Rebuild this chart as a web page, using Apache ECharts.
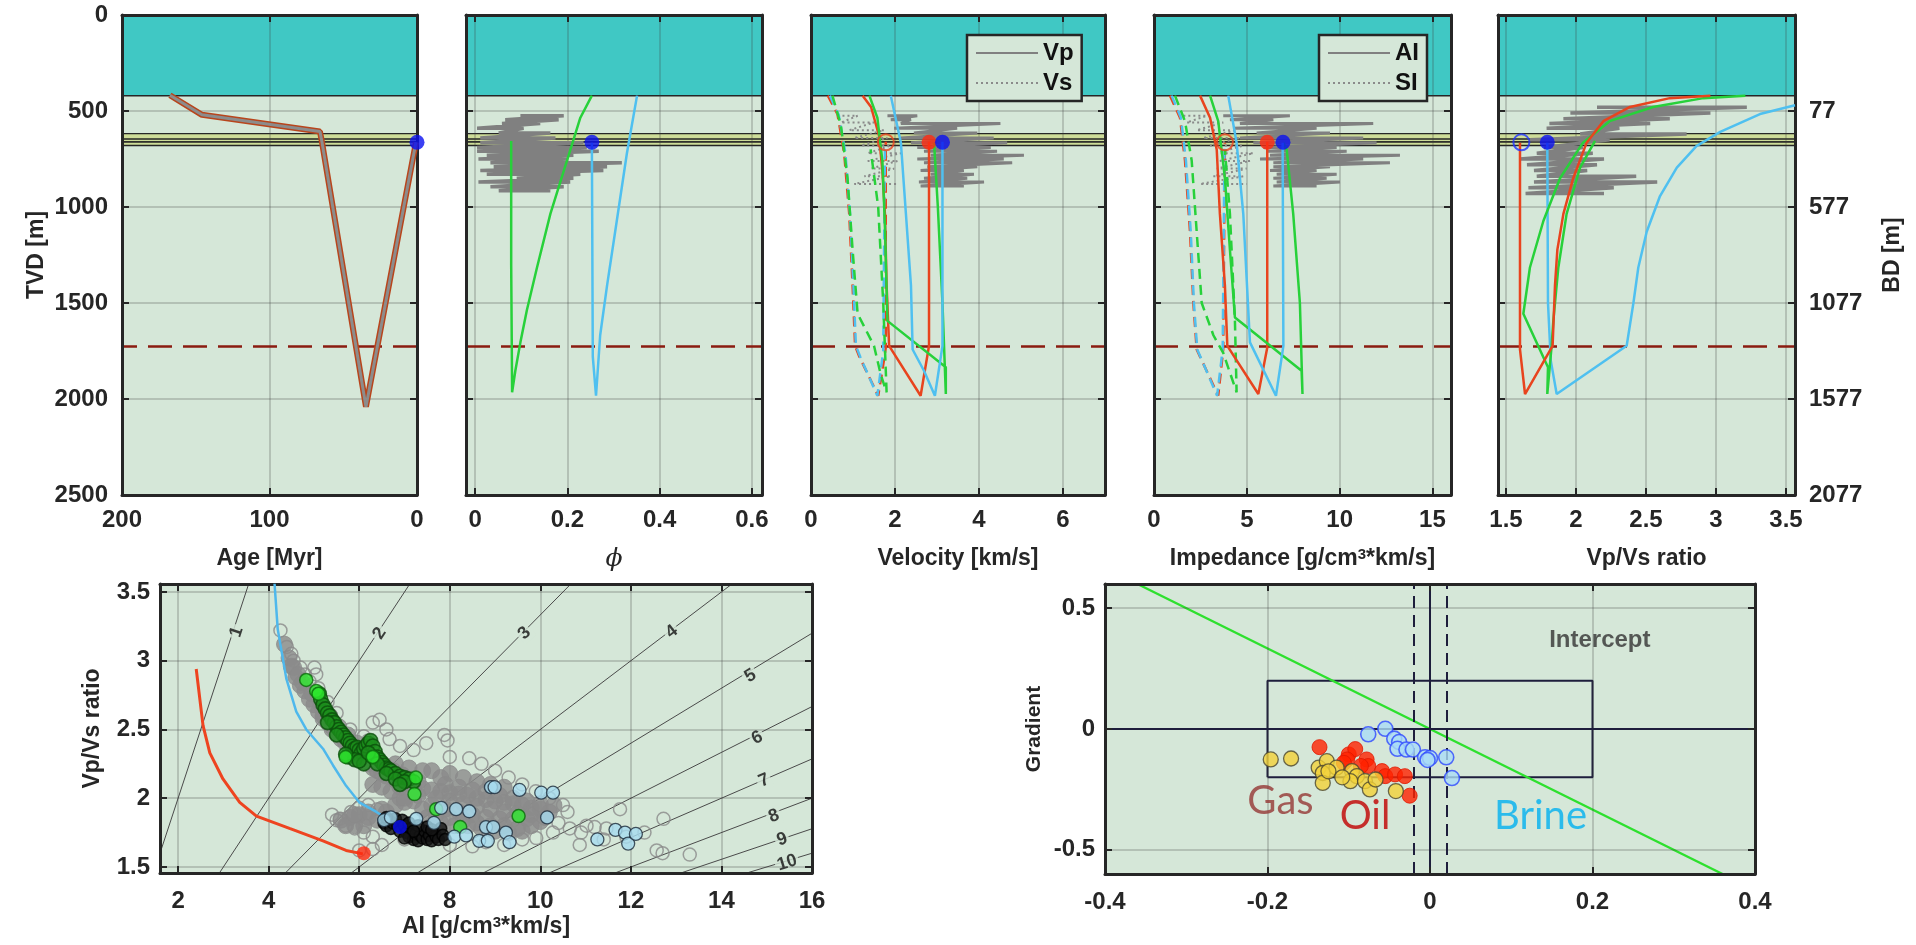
<!DOCTYPE html>
<html><head><meta charset="utf-8">
<script src="https://cdn.jsdelivr.net/npm/echarts@6/dist/echarts.min.js"></script>
<style>html,body{margin:0;padding:0;background:#fff}#c{width:1916px;height:945px}</style>
</head><body><div id="c"></div>
<script>
// ================= DATA =================
const tvdTicks = [0, 500, 1000, 1500, 2000, 2500];
const bdTickLabels = ['', '77', '577', '1077', '1577', '2077'];
const waterBottom = 420;
const reservoirLayers = [618, 646, 661, 680];
const ffDepth = 1727;
const wellDepth = 663;

// Panel 1: age vs depth
const ageX = [167.5, 145.8, 65.8, 64.4, 34.6, 0.7];
const ageD = [418, 520, 607, 663, 2040, 663];

// Panel 2: porosity
const phiGreenX = [0.253, 0.228, 0.199, 0.163, 0.134, 0.112, 0.098, 0.087, 0.080, 0.078, 0.078];
const phiGreenD = [420, 535, 758, 1036, 1315, 1538, 1705, 1853, 1965, 1300, 656];
const phiBlueX = [0.351, 0.329, 0.307, 0.286, 0.271, 0.262, 0.255, 0.253];
const phiBlueD = [420, 720, 1073, 1408, 1668, 1983, 1779, 665];
const phiLogD = [525, 545, 565, 590, 615, 640, 665, 690, 710, 730, 750, 770, 790, 810, 830, 850, 870, 895, 915];
const phiLogL = [0.098, 0.065, 0.058, 0.004, 0.051, 0.011, 0.011, 0.004, 0.004, 0.025, 0.007, 0.033, 0.040, 0.011, 0.025, 0.090, 0.007, 0.033, 0.051];
const phiLogR = [0.192, 0.181, 0.141, 0.105, 0.163, 0.174, 0.235, 0.242, 0.268, 0.213, 0.199, 0.318, 0.286, 0.278, 0.228, 0.213, 0.206, 0.192, 0.163];

// Panel 3: velocity
const velRedPX = [1.23, 1.43, 1.62, 1.70, 1.76, 1.80, 1.86, 2.61, 2.81, 2.81];
const velRedPD = [420, 479, 628, 813, 1036, 1408, 1723, 1983, 1723, 660];
const velRedSX = [0.40, 0.63, 0.79, 0.91, 0.99, 1.05, 1.15, 1.60, 1.70, 1.78, 1.78];
const velRedSD = [420, 516, 720, 1036, 1408, 1723, 1779, 1983, 1850, 1733, 660];
const velGreenPX = [1.39, 1.58, 1.70, 1.76, 1.82, 3.21, 3.21, 3.13, 3.02, 2.93];
const velGreenPD = [420, 535, 760, 1100, 1593, 1835, 1974, 1500, 1000, 665];
const velGreenSX = [0.51, 0.71, 0.87, 0.99, 1.11, 1.50, 1.66, 1.80, 1.72, 1.60, 1.42];
const velGreenSD = [420, 572, 850, 1222, 1556, 1723, 1872, 1965, 1500, 1000, 700];
const velBluePX = [1.90, 2.14, 2.26, 2.38, 2.42, 2.69, 2.95, 3.13, 3.13];
const velBluePD = [420, 665, 1036, 1408, 1742, 1853, 1983, 1723, 660];
const velBlueSX = [0.45, 0.66, 0.82, 0.93, 1.01, 1.07, 1.17, 1.58, 1.72, 1.76];
const velBlueSD = [420, 520, 720, 1036, 1408, 1723, 1779, 1983, 1750, 700];
const vpLogD = [525, 545, 565, 590, 615, 640, 665, 690, 710, 730, 750, 770, 790, 810, 830, 850, 870, 890];
const vpLogL = [1.82, 1.90, 2.14, 1.98, 2.45, 2.14, 2.38, 2.53, 2.69, 2.85, 2.53, 2.69, 2.77, 2.61, 2.85, 2.69, 2.57, 2.61];
const vpLogR = [2.53, 2.38, 4.51, 3.48, 3.96, 4.35, 4.67, 4.28, 4.43, 5.07, 4.59, 4.79, 3.96, 3.64, 3.88, 3.72, 4.12, 3.64];
const vsLogD = [525, 560, 600, 640, 680, 720, 760, 800, 840, 880];
const vsLogL = [0.63, 0.71, 0.91, 1.03, 1.19, 1.35, 1.35, 1.43, 1.27, 1.03];
const vsLogR = [1.11, 1.50, 1.74, 1.82, 1.90, 2.14, 2.06, 1.98, 1.90, 2.06];

// Panel 4: impedance
const aiRedPX = [2.48, 3.02, 3.38, 3.55, 3.82, 3.95, 5.62, 6.10, 6.10];
const aiRedPD = [420, 535, 702, 1036, 1408, 1723, 1974, 1733, 660];
const aiRedSX = [0.86, 1.40, 1.67, 1.94, 2.12, 2.30, 3.46, 3.73, 3.82];
const aiRedSD = [420, 535, 758, 1129, 1500, 1742, 1983, 1742, 665];
const aiGreenPX = [3.02, 3.46, 3.82, 4.09, 4.36, 7.95, 8.00, 7.86, 7.50, 7.15, 6.97];
const aiGreenPD = [420, 553, 850, 1222, 1575, 1853, 1974, 1500, 1036, 702, 665];
const aiGreenSX = [1.13, 1.67, 2.03, 2.30, 2.57, 3.20, 3.73, 4.45, 4.36, 4.09, 3.82];
const aiGreenSD = [420, 553, 758, 1129, 1500, 1668, 1760, 1965, 1593, 1036, 702];
const aiBluePX = [4.00, 4.45, 4.81, 5.17, 6.57, 6.97, 6.93];
const aiBluePD = [420, 665, 1036, 1705, 1983, 1723, 665];
const aiBlueSX = [0.95, 1.45, 1.72, 1.98, 2.15, 2.33, 3.40, 3.70, 3.80];
const aiBlueSD = [420, 535, 758, 1129, 1500, 1742, 1983, 1742, 665];
const aiLogD = [525, 545, 565, 590, 615, 640, 665, 690, 710, 730, 750, 770, 790, 810, 830, 850, 870, 890];
const aiLogL = [3.73, 4.09, 4.63, 4.27, 5.53, 4.63, 5.35, 5.89, 6.07, 6.25, 5.71, 6.43, 6.43, 6.25, 6.61, 6.43, 6.61, 6.43];
const aiLogR = [7.32, 6.43, 11.81, 8.76, 9.48, 11.27, 11.99, 9.84, 10.38, 13.25, 11.27, 12.71, 9.48, 8.76, 9.84, 9.30, 10.02, 8.76];
const siLogD = [525, 560, 600, 640, 680, 720, 760, 800, 840, 880];
const siLogL = [1.58, 1.76, 2.30, 2.66, 3.02, 3.38, 3.55, 3.38, 3.20, 2.48];
const siLogR = [2.84, 3.73, 4.45, 4.63, 4.81, 5.35, 5.17, 4.99, 4.81, 4.99];

// Panel 5: Vp/Vs
const rRedX = [2.96, 2.67, 2.386, 2.195, 2.076, 1.98, 1.91, 1.867, 1.85, 1.833, 1.636, 1.60, 1.60];
const rRedD = [420, 433, 479, 553, 665, 850, 1036, 1222, 1408, 1723, 1974, 1742, 665];
const rGreenX = [3.21, 2.91, 2.55, 2.24, 2.05, 1.886, 1.767, 1.671, 1.624, 1.80, 1.795, 1.826, 1.838, 1.874, 1.933, 2.029, 2.136];
const rGreenD = [420, 433, 479, 553, 665, 850, 1073, 1315, 1556, 1835, 1974, 1723, 1593, 1315, 1036, 795, 656];
const rBlueX = [3.564, 3.314, 3.03, 2.86, 2.72, 2.60, 2.505, 2.445, 2.41, 2.362, 1.862, 1.82, 1.80, 1.795];
const rBlueD = [470, 516, 609, 683, 795, 943, 1129, 1315, 1500, 1723, 1974, 1800, 1500, 665];
const rLogD = [480, 510, 540, 565, 590, 620, 650, 690, 720, 750, 780, 810, 840, 870, 900, 930];
const rLogL = [2.15, 1.96, 1.91, 1.81, 1.79, 2.03, 1.67, 1.77, 1.72, 1.60, 1.65, 1.70, 1.72, 1.70, 1.66, 1.64];
const rLogR = [3.22, 2.96, 2.67, 2.53, 2.31, 2.79, 2.24, 2.05, 2.12, 2.20, 2.15, 2.08, 2.43, 2.58, 2.27, 2.20];

// Well markers (value at wellDepth) per panel
const blueDotX = [0, 0.253, 3.13, 6.95, 1.795];
const redDotX = [null, null, 2.81, 6.10, null];
const openDotX = [null, null, 1.78, 3.82, 1.61];

// Bottom-left: AI vs Vp/Vs
const siLevels = [1, 2, 3, 4, 5, 6, 7, 8, 9, 10];
const siLabelX = [3.29, 6.45, 9.65, 12.9, 14.64, 14.79, 14.94, 15.16, 15.34, 15.45];
const siLabelY = [3.21, 3.20, 3.20, 3.21, 2.89, 2.44, 2.13, 1.87, 1.70, 1.53];
const cloudCoreAI = [4.35,4.45,4.55,4.6,4.7,4.8,4.9,5.0,5.1,5.2,5.3,5.4,5.5,5.6,5.7,5.8,5.9,6.0,6.1,6.2,6.3,6.4,6.5,6.6,6.8,7.0,7.2,7.4,7.6,7.8,8.0,8.2,8.4,8.6,8.8,9.0,9.2,9.4,9.6,9.8,10.0,10.2,
  7.6,7.8,8.0,8.3,8.6,8.9,9.2,7.6,7.9,8.2,8.5,8.8,9.1,9.4,9.7,10.0,7.8,8.1,8.4,8.7,9.0,9.3,9.6,6.8,7.1,7.4,6.9,7.2,7.5,
  5.6,5.8,6.0,6.2,6.4,6.1,5.9,5.7,6.6,6.8,7.0,5.2,5.4,5.6,5.8,6.0,6.2,6.4,6.6,
  7.0,7.3,7.7,8.0,8.3,8.6,8.9,9.2,9.5,9.8,10.1,7.4,7.7,8.0,8.3,8.6,8.9,9.2,9.5,9.8,7.9,8.2,8.5,8.8,9.1,9.4,9.7,10.0,10.3,6.5,6.2,5.9,7.3,6.7,6.9,7.6,6.3,6.5,
  4.5,4.65,4.75,4.95,5.15,5.35,5.55,5.75,5.95,6.15,6.35,6.55,6.75,6.95,7.15];
const cloudCoreVR = [3.12,3.02,2.95,2.88,2.82,2.78,2.72,2.68,2.63,2.58,2.55,2.5,2.47,2.43,2.4,2.36,2.33,2.3,2.27,2.25,2.22,2.2,2.18,2.16,2.13,2.1,2.08,2.07,2.06,2.05,2.04,2.03,2.02,2.0,1.99,1.98,1.97,1.96,1.95,1.93,1.92,1.9,
  2.2,2.15,2.18,2.15,2.12,2.1,2.08,1.95,1.92,1.9,1.88,1.86,1.85,1.85,1.85,1.83,1.82,1.8,1.8,1.78,1.76,1.75,1.76,2.25,2.22,2.2,2.0,1.98,1.86,
  1.84,1.86,1.88,1.86,1.84,1.8,1.8,1.8,1.9,1.95,1.97,2.6,2.52,2.45,2.38,2.32,2.28,2.24,2.22,
  2.0,2.02,2.0,1.98,1.96,1.94,1.92,1.9,1.89,1.88,1.86,1.92,1.88,1.86,1.84,1.82,1.8,1.8,1.78,1.8,2.1,2.08,2.06,2.05,2.02,2.0,1.98,1.96,1.95,1.92,1.9,1.88,2.12,2.05,2.08,1.8,2.1,2.08,
  2.96,2.9,2.84,2.76,2.68,2.6,2.52,2.46,2.4,2.34,2.29,2.24,2.2,2.17,2.14];
const cloudAI = [4.26,4.4,4.5,4.55,4.7,5.01,4.9,5.1,5.3,5.5,6.45,6.3,6.6,6.67,6.9,7.2,7.48,7.88,7.95,8.0,8.43,8.7,9.0,9.3,9.6,9.9,10.2,10.5,10.6,
  5.4,5.5,5.57,5.82,6.0,6.2,6.4,5.7,5.9,6.1,6.3,6.0,6.3,6.5,7.0,8.0,8.5,8.8,9.2,9.6,9.91,10.28,10.65,10.87,11.02,11.2,11.46,11.76,11.4,11.9,12.72,12.57,12.7,13.3,10.4,10.9,12.3,
  5.05,4.8,5.8,6.1,6.2];
const cloudVR = [3.22,3.1,3.05,3.0,2.95,2.95,2.85,2.8,2.7,2.62,2.57,2.55,2.5,2.43,2.38,2.35,2.4,2.46,2.42,2.3,2.29,2.25,2.2,2.15,2.1,2.05,2.0,1.95,1.9,
  1.88,1.84,1.85,1.9,1.93,1.95,1.92,1.8,1.78,1.75,1.72,1.62,1.63,1.66,1.7,1.66,1.65,1.68,1.66,1.7,1.71,1.75,1.78,1.66,1.8,1.79,1.78,1.92,1.7,1.72,1.85,1.62,1.6,1.59,1.82,1.75,1.75,
  2.9,2.9,2.5,2.45,2.42];
const greenBandAI = [5.12,5.15,5.2,5.25,5.3,5.35,5.4,5.45,5.5,5.55,5.6,5.65,5.7,5.75,5.8,5.85,5.9,5.95,6.0,6.05,6.1,6.15,6.2,6.25,6.3,6.35,6.4,6.45,6.5,6.55,6.6,6.65,6.7,6.8,6.9,7.0,7.1,7.2,5.75,5.9,6.1,6.0,5.7,6.3,6.2,6.4,6.6,6.8,7.0,5.5,5.3,6.9];
const greenBandVR = [2.76,2.72,2.68,2.65,2.62,2.6,2.57,2.55,2.52,2.5,2.48,2.46,2.44,2.42,2.4,2.38,2.36,2.37,2.35,2.33,2.36,2.38,2.4,2.42,2.38,2.34,2.3,2.28,2.26,2.24,2.22,2.21,2.2,2.18,2.16,2.15,2.14,2.12,2.3,2.28,2.25,2.27,2.32,2.3,2.33,2.25,2.18,2.14,2.12,2.46,2.55,2.1];
const greenAI = [4.83, 5.05, 5.1, 5.7, 6.3, 7.25, 7.22, 7.7, 8.23, 9.52];
const greenVR = [2.86, 2.78, 2.76, 2.3, 2.3, 2.15, 2.03, 1.92, 1.79, 1.87];
const lbAI = [8.91,8.99,9.54,10.02,10.28,7.81,8.14,8.43,8.1,8.36,8.65,8.84,8.8,8.96,9.24,9.32,7.26,10.15,11.26,11.66,11.87,11.94,12.11,6.55,6.7,7.65];
const lbVR = [2.08,2.08,2.06,2.04,2.04,1.93,1.92,1.905,1.72,1.73,1.69,1.69,1.79,1.79,1.75,1.68,1.85,1.86,1.70,1.77,1.75,1.67,1.74,1.84,1.86,1.82];
const blackAI = [6.55,6.6,6.65,6.7,6.75,6.8,6.85,6.9,6.95,7.0,7.05,7.1,7.15,7.2,7.25,7.3,7.35,7.4,7.45,7.5,7.55,7.6,7.65,7.7,7.75,7.8,7.85,7.3,7.5,7.1,6.6,7.9,7.2,7.6,7.0];
const blackVR = [1.82,1.8,1.84,1.78,1.82,1.85,1.8,1.76,1.84,1.8,1.75,1.72,1.78,1.7,1.74,1.69,1.73,1.71,1.76,1.7,1.73,1.69,1.75,1.72,1.7,1.78,1.73,1.8,1.79,1.82,1.86,1.7,1.76,1.77,1.71];
const trendRedAI = [2.40, 2.55, 2.70, 2.99, 3.36, 3.73, 4.46, 5.2, 5.71, 6.08];
const trendRedVR = [2.94, 2.53, 2.33, 2.14, 1.97, 1.87, 1.78, 1.69, 1.62, 1.595];
const trendBlueAI = [4.13, 4.2, 4.39, 4.61, 4.83, 5.2, 5.42, 5.71, 6.0, 6.38, 6.67, 6.9];
const trendBlueVR = [3.56, 3.23, 2.87, 2.63, 2.50, 2.36, 2.24, 2.09, 1.97, 1.9, 1.84, 1.79];
const endRed = [6.1, 1.6];
const endBlue = [6.9, 1.79];

// Bottom-right: AVO intercept / gradient
const gasI = [-0.196,-0.171,-0.137,-0.127,-0.132,-0.132,-0.115,-0.096,-0.090,-0.098,-0.080,-0.074,-0.067,-0.042,-0.125,-0.108];
const gasG = [-0.126,-0.122,-0.160,-0.133,-0.182,-0.223,-0.160,-0.174,-0.195,-0.216,-0.216,-0.250,-0.209,-0.257,-0.175,-0.200];
const oilI = [-0.136,-0.100,-0.092,-0.102,-0.078,-0.076,-0.059,-0.055,-0.043,-0.031,-0.025,-0.085,-0.106];
const oilG = [-0.075,-0.105,-0.083,-0.126,-0.126,-0.153,-0.174,-0.195,-0.188,-0.195,-0.276,-0.153,-0.140];
const brineI = [-0.076,-0.055,-0.044,-0.038,-0.040,-0.029,-0.021,-0.006,0.000,-0.003,0.020,0.027];
const brineG = [-0.022,0.001,-0.040,-0.054,-0.082,-0.085,-0.085,-0.117,-0.120,-0.128,-0.117,-0.203];
const boxI = [-0.2, 0.2, 0.2, -0.2, -0.2];
const boxG = [-0.2, -0.2, 0.2, 0.2, -0.2];
const trendI = [-0.36, 0.36];
const trendG = [0.6, -0.6];
const noiseI = [-0.02, 0.02];
const annoText = ['Intercept', 'Gas', 'Oil', 'Brine'];
const annoI = [0.209, -0.184, -0.080, 0.136];
const annoG = [0.365, -0.299, -0.361, -0.361];

// ================= STYLE / LAYOUT =================
const FONT = "'Liberation Sans', Arial, Helvetica, sans-serif";
const INK = '#262626', BG = '#d5e7d8', WATER = '#40c8c4', RES = '#cddc98';
const RED = '#e8441e', GREEN = '#27d13a', BLUE = '#4fc0f0';
const zip = (a, b) => a.map((v, i) => [v, b[i]]);
const zigzag = (d, l, r) => { const o = []; d.forEach((v, i) => { o.push([l[i], v]); o.push([r[i], v]); }); return o; };
const plain = v => String(v);

const AXL = {show: true, onZero: false, lineStyle: {color: INK, width: 3}};
const TICK = {show: true, inside: true, length: 7, lineStyle: {color: INK, width: 2}};
const SPLIT = {show: true, lineStyle: {color: 'rgba(60,60,60,0.22)', width: 2}};
const LBL = {color: INK, fontSize: 24, fontWeight: 'bold', fontFamily: FONT, formatter: plain};
const NAME = {color: INK, fontSize: 23, fontWeight: 'bold', fontFamily: FONT};
const SUP = {sup: {fontSize: 15, fontWeight: 'bold', fontFamily: FONT, color: INK, verticalAlign: 'top', lineHeight: 14}};

const topBoxes = [[122, 295], [466, 296], [811, 294], [1154, 297], [1498, 297]];
const topX = [
  {min: 0, max: 200, inverse: true, ticks: [0, 100, 200], name: 'Age [Myr]'},
  {min: -0.02, max: 0.622, ticks: [0, 0.2, 0.4, 0.6], name: 'ϕ', nameStyle: {fontFamily: "'DejaVu Serif', serif", fontStyle: 'italic', fontWeight: 'normal', fontSize: 25}},
  {min: 0, max: 7, ticks: [0, 2, 4, 6], name: 'Velocity [km/s]'},
  {min: 0, max: 16, ticks: [0, 5, 10, 15], name: 'Impedance [g/cm{sup|3}*km/s]'},
  {min: 1.443, max: 3.564, ticks: [1.5, 2, 2.5, 3, 3.5], name: 'Vp/Vs ratio'}
];

const grid = [], xAxis = [], yAxis = [], series = [];
function addAxes(gi, xc, yc) {
  xAxis.push({type: 'value', gridIndex: gi, position: 'bottom', min: xc.min, max: xc.max, inverse: !!xc.inverse, z: 5,
    axisLine: AXL, axisTick: Object.assign({}, TICK, {customValues: xc.ticks}),
    axisLabel: Object.assign({}, LBL, {margin: xc.margin || 13, customValues: xc.ticks}),
    splitLine: SPLIT, name: xc.name || '', nameLocation: 'middle', nameGap: xc.nameGap || 52,
    nameTextStyle: Object.assign({}, NAME, xc.nameStyle || {}, {rich: SUP})});
  xAxis.push({type: 'value', gridIndex: gi, position: 'top', min: xc.min, max: xc.max, inverse: !!xc.inverse, z: 5,
    axisLine: AXL, axisTick: Object.assign({}, TICK, {customValues: xc.ticks}), axisLabel: {show: false}, splitLine: {show: false}});
  const yBase = {type: 'value', gridIndex: gi, min: yc.min, max: yc.max, inverse: !!yc.inverse, z: 5, axisLine: AXL};
  if (yc.interval) yBase.interval = yc.interval;
  const tk = yc.ticks ? {customValues: yc.ticks} : {};
  yAxis.push(Object.assign({}, yBase, {position: 'left',
    axisTick: Object.assign({}, TICK, tk),
    axisLabel: yc.showLabel ? Object.assign({}, LBL, {margin: yc.margin || 14}, tk) : {show: false},
    splitLine: SPLIT, name: yc.name || '', nameLocation: 'middle', nameRotate: 90, nameGap: yc.nameGap || 78,
    nameTextStyle: Object.assign({}, NAME, yc.nameStyle || {})}));
  yAxis.push(Object.assign({}, yBase, {position: 'right',
    axisTick: Object.assign({}, TICK, tk),
    axisLabel: yc.rightLabel ? Object.assign({}, LBL, {margin: 14, formatter: yc.rightLabel}) : {show: false},
    splitLine: {show: false}, name: yc.rightName || '', nameLocation: 'middle', nameRotate: 90, nameGap: 86,
    nameTextStyle: NAME}));
  return {x: xAxis.length - 2, y: yAxis.length - 2};
}
function lineS(ax, data, color, width, type, extra) {
  return Object.assign({type: 'line', xAxisIndex: ax.x, yAxisIndex: ax.y, data: data, symbol: 'none', showSymbol: false,
    lineStyle: {color: color, width: width, type: type || 'solid'}, itemStyle: {color: color},
    z: 6, silent: true, animation: false}, extra || {});
}
function dots(ax, data, size, style, extra) {
  return Object.assign({type: 'scatter', xAxisIndex: ax.x, yAxisIndex: ax.y, data: data, symbol: 'circle', symbolSize: size,
    itemStyle: style, z: 7, silent: true, animation: false}, extra || {});
}

// ---------- top row ----------
const topCurves = [
  [],
  [[phiGreenX, phiGreenD, GREEN, 'solid'], [phiBlueX, phiBlueD, BLUE, 'solid']],
  [[velRedSX, velRedSD, RED, [10, 6]], [velBlueSX, velBlueSD, BLUE, [10, 6]], [velGreenSX, velGreenSD, GREEN, [10, 6]],
   [velRedPX, velRedPD, RED, 'solid'], [velGreenPX, velGreenPD, GREEN, 'solid'], [velBluePX, velBluePD, BLUE, 'solid']],
  [[aiRedSX, aiRedSD, RED, [10, 6]], [aiBlueSX, aiBlueSD, BLUE, [10, 6]], [aiGreenSX, aiGreenSD, GREEN, [10, 6]],
   [aiRedPX, aiRedPD, RED, 'solid'], [aiGreenPX, aiGreenPD, GREEN, 'solid'], [aiBluePX, aiBluePD, BLUE, 'solid']],
  [[rBlueX, rBlueD, BLUE, 'solid'], [rGreenX, rGreenD, GREEN, 'solid'], [rRedX, rRedD, RED, 'solid']]
];
topBoxes.forEach((b, i) => {
  grid.push({left: b[0], top: 15, width: b[1], height: 480, show: true, backgroundColor: BG, borderWidth: 0});
  const ax = addAxes(i, topX[i], {min: 0, max: 2500, interval: 500, inverse: true, showLabel: i === 0,
    name: i === 0 ? 'TVD [m]' : '', nameGap: 74,
    rightLabel: i === 4 ? (v => bdTickLabels[tvdTicks.indexOf(v)]) : null, rightName: i === 4 ? 'BD [m]' : ''});
  series.push({type: 'line', xAxisIndex: ax.x, yAxisIndex: ax.y, data: [], z: 1, silent: true,
    markArea: {silent: true, data: [
      [{yAxis: 0, itemStyle: {color: WATER, borderColor: INK, borderWidth: 1.5}}, {yAxis: waterBottom}],
      [{yAxis: reservoirLayers[0], itemStyle: {color: RES, borderColor: INK, borderWidth: 1.2}}, {yAxis: reservoirLayers[1]}],
      [{yAxis: reservoirLayers[1], itemStyle: {color: RES, borderColor: INK, borderWidth: 1.2}}, {yAxis: reservoirLayers[2]}],
      [{yAxis: reservoirLayers[2], itemStyle: {color: RES, borderColor: INK, borderWidth: 1.5}}, {yAxis: reservoirLayers[3]}]
    ]},
    markLine: {silent: true, symbol: 'none', label: {show: false},
      lineStyle: {color: '#8a1c10', type: [24, 11], width: 2.5}, data: [{yAxis: ffDepth}]}});
  if (i === 1) series.push(lineS(ax, zigzag(phiLogD, phiLogL, phiLogR), '#808080', 3.5, 'solid', {z: 5}));
  if (i === 2) {
    series.push(lineS(ax, zigzag(vpLogD, vpLogL, vpLogR), '#808080', 3, 'solid', {name: 'Vp', z: 5}));
    series.push(lineS(ax, zigzag(vsLogD, vsLogL, vsLogR), '#8a8a8a', 2, [2, 3], {name: 'Vs', z: 5}));
  }
  if (i === 3) {
    series.push(lineS(ax, zigzag(aiLogD, aiLogL, aiLogR), '#808080', 3, 'solid', {name: 'AI', z: 5}));
    series.push(lineS(ax, zigzag(siLogD, siLogL, siLogR), '#8a8a8a', 2, [2, 3], {name: 'SI', z: 5}));
  }
  if (i === 4) series.push(lineS(ax, zigzag(rLogD, rLogL, rLogR), '#808080', 3.5, 'solid', {z: 5}));
  if (i === 0) {
    series.push(lineS(ax, zip(ageX, ageD), '#b8451c', 6));
    series.push(lineS(ax, zip(ageX, ageD), '#8c8c8c', 3));
  }
  topCurves[i].forEach(c => series.push(lineS(ax, zip(c[0], c[1]), c[2], 2.5, c[3])));
  if (openDotX[i] !== null) series.push(dots(ax, [[openDotX[i], wellDepth]], 16,
    {color: 'rgba(0,0,0,0)', borderColor: i === 4 ? '#2233ff' : RED, borderWidth: 2}));
  if (redDotX[i] !== null) series.push(dots(ax, [[redDotX[i], wellDepth]], 15, {color: '#ff2a10'}));
  series.push(dots(ax, [[blueDotX[i], wellDepth]], 15, {color: '#0a10f0'}, {clip: false}));
});

// ---------- bottom-left ----------
grid.push({left: 160, top: 584, width: 652, height: 289, show: true, backgroundColor: BG, borderWidth: 0});
const blMin = [1.6, 1.456], blMax = [16, 3.558];
const axBL = addAxes(5,
  {min: blMin[0], max: blMax[0], ticks: [2, 4, 6, 8, 10, 12, 14, 16], name: 'AI [g/cm{sup|3}*km/s]', nameGap: 42, margin: 16},
  {min: blMin[1], max: blMax[1], ticks: [1.5, 2, 2.5, 3, 3.5], showLabel: true, margin: 10, name: 'Vp/Vs ratio', nameGap: 56});
const pxPerX = 652 / (blMax[0] - blMin[0]), pxPerY = 289 / (blMax[1] - blMin[1]);
siLevels.forEach(k => series.push(lineS(axBL, [[k * 1.0, 1.0], [k * 3.7, 3.7]], '#4a4a4a', 1, 'solid', {z: 3})));
series.push(dots(axBL, siLevels.map((k, i) => ({value: [siLabelX[i], siLabelY[i]],
  label: {show: true, position: 'inside', formatter: String(k), rotate: Math.atan(pxPerY / pxPerX / k) * 180 / Math.PI,
    color: '#111', fontSize: 18, fontWeight: 'bold', fontFamily: FONT, backgroundColor: BG, padding: [0, 2]}})), 0, {color: 'rgba(0,0,0,0)'}, {z: 4}));
series.push(dots(axBL, zip(cloudAI, cloudVR), 13, {color: 'rgba(0,0,0,0)', borderColor: '#8a8a8a', borderWidth: 1.5}));
series.push(dots(axBL, zip(cloudCoreAI, cloudCoreVR), 16, {color: '#8b8b8b', borderColor: '#8b8b8b', borderWidth: 1}));
series.push(lineS(axBL, zip(trendBlueAI, trendBlueVR), '#4fb8ec', 2.5, 'solid', {z: 8}));
series.push(dots(axBL, zip(greenBandAI, greenBandVR), 14, {color: '#1c8f1c', borderColor: '#0b4f0b', borderWidth: 1.6}, {z: 8}));
series.push(dots(axBL, zip(greenAI, greenVR), 13, {color: '#2ee82e', borderColor: '#0c6a0c', borderWidth: 1.5}, {z: 8}));
series.push(dots(axBL, zip(blackAI, blackVR), 12, {color: '#141414', borderColor: '#000', borderWidth: 1.5}, {z: 8}));
series.push(dots(axBL, zip(lbAI, lbVR), 13, {color: '#a6dcf0', borderColor: '#1c2a3a', borderWidth: 1.3}, {z: 8}));
series.push(lineS(axBL, zip(trendRedAI, trendRedVR), '#ee4420', 3, 'solid', {z: 9}));
series.push(dots(axBL, [endRed], 14, {color: '#ff2a10'}, {z: 10}));
series.push(dots(axBL, [endBlue], 14, {color: '#0a10f0'}, {z: 10}));

// ---------- bottom-right ----------
grid.push({left: 1105, top: 584, width: 650, height: 290, show: true, backgroundColor: BG, borderWidth: 0});
const axBR = addAxes(6,
  {min: -0.4, max: 0.4, ticks: [-0.4, -0.2, 0, 0.2, 0.4], margin: 16},
  {min: -0.6, max: 0.6, ticks: [-0.5, 0, 0.5], showLabel: true, margin: 10, name: 'Gradient', nameGap: 60,
   nameStyle: {fontSize: 21}});
series.push({type: 'line', xAxisIndex: axBR.x, yAxisIndex: axBR.y, data: [], z: 2, silent: true,
  markLine: {silent: true, symbol: 'none', label: {show: false}, data: [
    {xAxis: 0, lineStyle: {color: '#1e1e3c', width: 2, type: 'solid'}},
    {yAxis: 0, lineStyle: {color: '#1e1e3c', width: 2, type: 'solid'}},
    {xAxis: noiseI[0], lineStyle: {color: '#1e1e3c', width: 2, type: [12, 7]}},
    {xAxis: noiseI[1], lineStyle: {color: '#1e1e3c', width: 2, type: [12, 7]}}
  ]}});
series.push(lineS(axBR, zip(boxI, boxG), '#1e1e3c', 2, 'solid', {z: 3}));
series.push(lineS(axBR, zip(trendI, trendG), '#2ee02e', 2.5, 'solid', {z: 3}));
series.push(dots(axBR, zip(oilI, oilG), 15, {color: '#ff2200', borderColor: '#e01800', borderWidth: 1}));
series.push(dots(axBR, zip(gasI, gasG), 15, {color: '#f2d23a', borderColor: '#4a4630', borderWidth: 1.3}));
series.push(dots(axBR, zip(brineI, brineG), 15, {color: '#aadcf6', borderColor: '#2e48ff', borderWidth: 1.6}));
const annoStyle = [
  {color: '#333', fontSize: 24, fontWeight: 'bold', fontFamily: FONT},
  {color: '#953735', fontSize: 40, fontFamily: 'Lato, sans-serif'},
  {color: '#c00000', fontSize: 40, fontFamily: 'Lato, sans-serif'},
  {color: '#00b0f0', fontSize: 40, fontFamily: 'Lato, sans-serif'}
];
series.push(dots(axBR, annoText.map((t, i) => ({value: [annoI[i], annoG[i]],
  label: Object.assign({show: true, position: 'inside', formatter: t}, annoStyle[i])})), 0, {color: 'rgba(0,0,0,0)'}, {z: 9}));

const legendBase = {orient: 'vertical', top: 35, itemWidth: 62, itemHeight: 14, itemGap: 6, padding: [6, 8],
  backgroundColor: BG, borderColor: INK, borderWidth: 2.5, selectedMode: false, z: 10,
  itemStyle: {opacity: 0},
  textStyle: {color: '#111', fontSize: 24, fontWeight: 'bold', fontFamily: FONT}};
const option = {
  animation: false, backgroundColor: '#ffffff',
  legend: [Object.assign({}, legendBase, {data: ['Vp', 'Vs'], left: 967}),
           Object.assign({}, legendBase, {data: ['AI', 'SI'], left: 1319})],
  grid: grid, xAxis: xAxis, yAxis: yAxis, series: series
};
const chart = echarts.init(document.getElementById('c'), null, {renderer: 'canvas'});
chart.setOption(option);
</script></body></html>
